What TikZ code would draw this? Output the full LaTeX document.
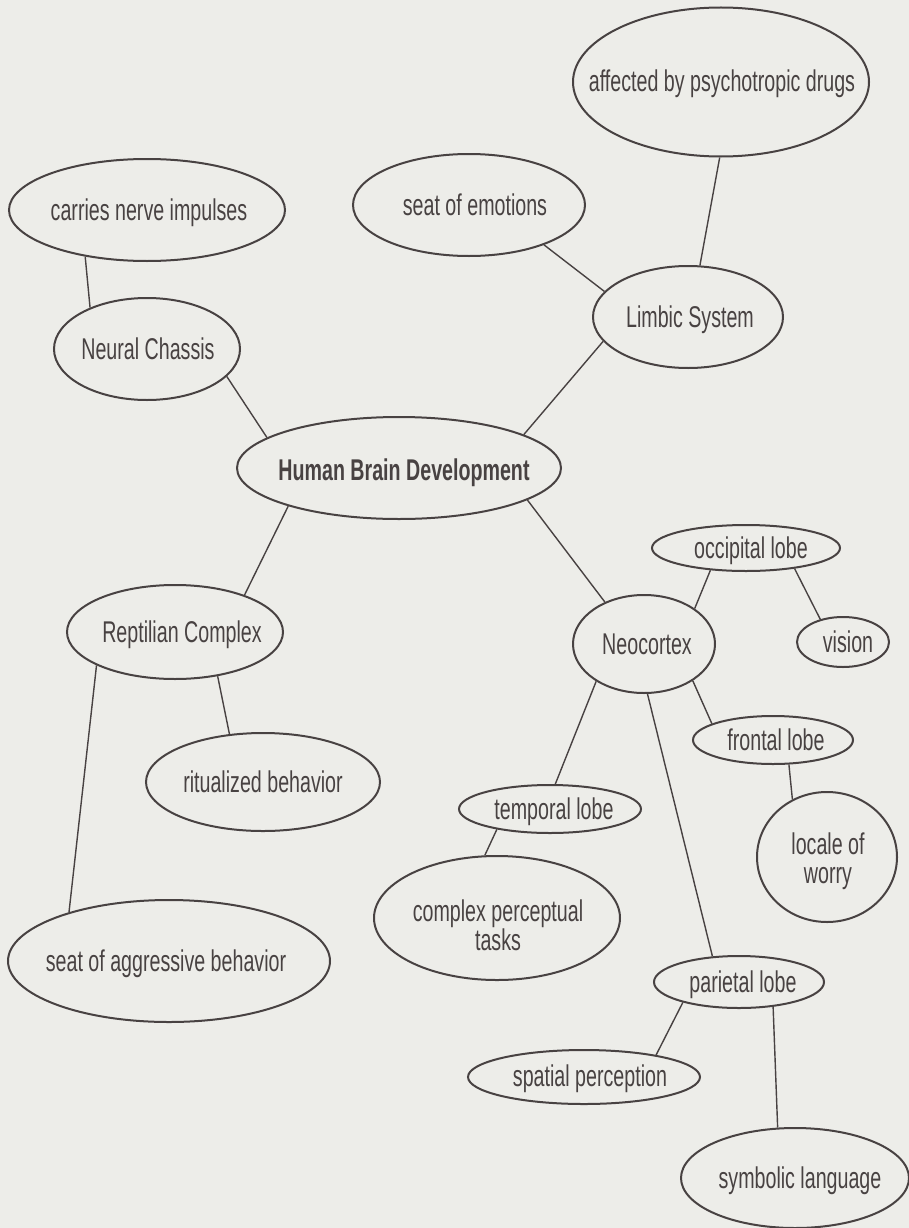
\documentclass[tikz,border=0pt]{standalone}
\usepackage{fontspec}
\setmainfont{Liberation Sans}[FakeStretch=0.655]
\usetikzlibrary{shapes.geometric}
\definecolor{ink}{RGB}{72,66,66}
\definecolor{paper}{RGB}{237,237,233}
\newcommand\lab{\fontsize{30}{29}\selectfont}
\tikzset{
  bub/.style 2 args={ellipse, draw=ink, line width=2pt, minimum width=#1, minimum height=#2, inner sep=0pt},
  lbl/.style={text=ink, font=\lab, text height=21.5pt, text depth=0pt, inner sep=0pt},
  lbltwo/.style={text=ink, font=\lab, align=center, inner sep=0pt},
  con/.style={draw=ink, line width=1.4pt},
}
\begin{document}
\begin{tikzpicture}[x=1pt,y=-1pt]
\useasboundingbox (0,0) rectangle (909,1228);
\fill[paper] (0,0) rectangle (909,1228);

% ellipses
\node[bub={296pt}{149pt}] (aff) at (721,82) {};
\node[bub={276pt}{102pt}] (car) at (147,210) {};
\node[bub={232pt}{102pt}] (emo) at (469,205) {};
\node[bub={186pt}{102pt}] (nc)  at (147,349) {};
\node[bub={190pt}{102pt}] (lim) at (688,317) {};
\node[bub={324pt}{102pt}] (hbd) at (399,468) {};
\node[bub={188pt}{46pt}]  (occ) at (746,548) {};
\node[bub={216pt}{94pt}]  (rep) at (175,632) {};
\node[bub={142pt}{98pt}]  (neo) at (644,644) {};
\node[bub={92pt}{50pt}]   (vis) at (843,642) {};
\node[bub={160pt}{48pt}]  (fro) at (773,740) {};
\node[bub={234pt}{98pt}]  (rit) at (263,782) {};
\node[bub={182pt}{48pt}]  (tem) at (550,809) {};
\node[bub={140pt}{130pt}] (loc) at (827,857) {};
\node[bub={246pt}{124pt}] (cpt) at (497,918) {};
\node[bub={170pt}{52pt}]  (par) at (739,982) {};
\node[bub={232pt}{54pt}]  (spa) at (584,1077) {};
\node[bub={228pt}{100pt}] (sym) at (795,1178) {};
\node[bub={322pt}{122pt}] (agg) at (169,961) {};

% labels
\node[lbl] at (722,81)  {affected by psychotropic drugs};
\node[lbl] at (149,210) {carries nerve impulses};
\node[lbl] at (475,205) {seat of emotions};
\node[lbl] at (148,349) {Neural Chassis};
\node[lbl] at (690,317) {Limbic System};
\node[lbl, font=\lab\bfseries] at (404,470) {Human Brain Development};
\node[lbl] at (751,548) {occipital lobe};
\node[lbl] at (182,632) {Reptilian Complex};
\node[lbl] at (647,644) {Neocortex};
\node[lbl] at (848,642) {vision};
\node[lbl] at (776,740) {frontal lobe};
\node[lbl] at (263,782) {ritualized behavior};
\node[lbl] at (554,809) {temporal lobe};
\node[lbltwo] at (828,861) {locale of\\worry};
\node[lbltwo] at (498,925) {complex perceptual\\tasks};
\node[lbl] at (743,982) {parietal lobe};
\node[lbl] at (590,1076) {spatial perception};
\node[lbl] at (800,1178) {symbolic language};
\node[lbl] at (166,961) {seat of aggressive behavior};

% connectors
\draw[con] (aff.269) -- (lim.77.6);
\draw[con] (emo.-28.4) -- (lim.163.6);
\draw[con] (lim.196.4) -- (hbd.15);
\draw[con] (car.217.3) -- (nc.144.1);
\draw[con] (nc.-19.3) -- (hbd.167.3);
\draw[con] (hbd.199.2) -- (rep.28.1);
\draw[con] (hbd.-14.8) -- (neo.133.6);
\draw[con] (rep.-46.3) -- (rit.125.9);
\draw[con] (rep.203.9) -- (agg.154.1);
\draw[con] (occ.212.3) -- (neo.35.2);
\draw[con] (occ.337.3) -- (vis.135);
\draw[con] (neo.-37.8) -- (fro.165.2);
\draw[con] (neo.218.5) -- (tem.78.2);
\draw[con] (neo.274.7) -- (par.136);
\draw[con] (fro.303.1) -- (loc.121.7);
\draw[con] (tem.201.8) -- (cpt.101.3);
\draw[con] (par.200.6) -- (spa.17.3);
\draw[con] (par.324.2) -- (sym.109.8);
\end{tikzpicture}
\end{document}
